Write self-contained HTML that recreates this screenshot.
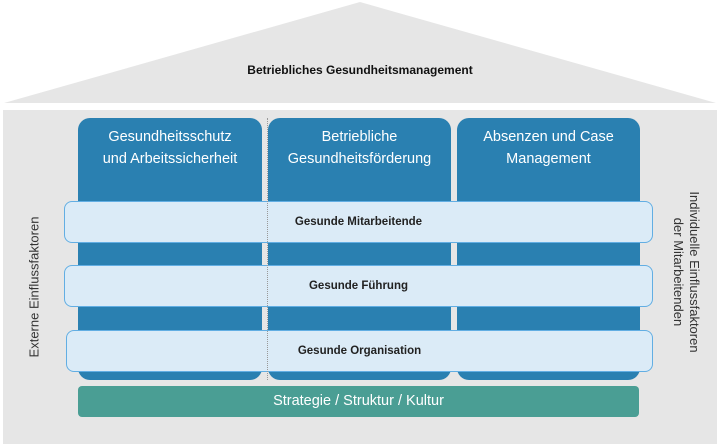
<!DOCTYPE html>
<html><head><meta charset="utf-8"><style>
body{margin:0;width:720px;height:446px;background:#fff;position:relative;overflow:hidden;font-family:"Liberation Sans",sans-serif}
.a{position:absolute}
.col{position:absolute;top:118px;height:262px;background:#2a80b1;border-radius:12px;color:#fff;font-size:14.5px;text-align:center;line-height:22px;padding-top:8px;box-sizing:border-box}
.band{position:absolute;left:64px;width:589px;height:42px;background:#dbebf7;border:1.5px solid #62aee3;border-radius:8px;box-sizing:border-box;text-align:center;font-size:11.5px;font-weight:bold;color:#222;line-height:41px}
</style></head><body>
<svg class="a" style="left:0;top:0" width="720" height="446">
<polygon points="4,103 360,2 716,103" fill="#e6e6e6"/>
<rect x="3" y="110" width="714" height="334" fill="#e6e6e6"/>
</svg>
<div class="a" style="left:0;top:63px;width:720px;text-align:center;font-size:12px;font-weight:bold;color:#111">Betriebliches Gesundheitsmanagement</div>
<div class="col" style="left:78px;width:184px">Gesundheitsschutz<br>und Arbeitssicherheit</div>
<div class="col" style="left:268px;width:183px">Betriebliche<br>Gesundheitsförderung</div>
<div class="col" style="left:457px;width:183px">Absenzen und Case<br>Management</div>
<div class="band" style="top:201px">Gesunde Mitarbeitende</div>
<div class="band" style="top:265px">Gesunde Führung</div>
<div class="band" style="top:330px;left:66px;width:587px">Gesunde Organisation</div>
<div class="a" style="left:267px;top:118px;height:262px;border-left:1px dotted #999"></div>
<div class="a" style="left:78px;top:386px;width:561px;height:31px;background:#4a9e94;border-radius:4px;color:#fff;font-size:14.5px;text-align:center;line-height:31px">Strategie / Struktur / Kultur</div>
<div class="a" style="left:34px;top:287px;width:0;height:0"><div style="position:absolute;transform:translate(-50%,-50%) rotate(-90deg);white-space:nowrap;font-size:13px;color:#333">Externe Einflussfaktoren</div></div>
<div class="a" style="left:686px;top:272px;width:0;height:0"><div style="position:absolute;transform:translate(-50%,-50%) rotate(90deg);white-space:nowrap;font-size:13px;color:#333;text-align:center;line-height:16px">Individuelle Einflussfaktoren<br>der Mitarbeitenden</div></div>
</body></html>
